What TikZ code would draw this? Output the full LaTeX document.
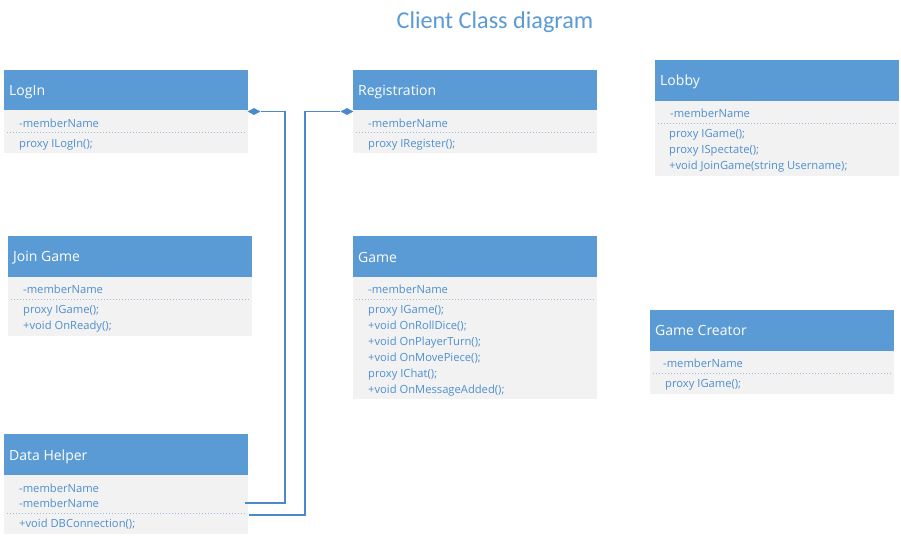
\documentclass[tikz,border=0pt]{standalone}
\usepackage{fontspec}
\usetikzlibrary{shapes.geometric}
\setmainfont{Carlito}
\newfontfamily\bodyfont{Open Sans}
\definecolor{hdr}{HTML}{5B9BD5}
\definecolor{bodyfill}{HTML}{F2F2F2}
\definecolor{txt}{HTML}{4F8FD0}
\definecolor{dotc}{HTML}{9DBBDD}
\definecolor{linec}{HTML}{4A8ACB}
\begin{document}
\begin{tikzpicture}[x=1pt,y=-1pt,
  hdrbox/.style={fill=hdr, draw=none},
  bodybox/.style={fill=bodyfill, draw=none},
  hdrtext/.style={anchor=base west, yshift=-5pt, inner sep=0pt, text=white, font=\bodyfont\fontsize{14}{16}\selectfont},
  mtext/.style={anchor=base west, yshift=-4pt, inner sep=0pt, text=txt, font=\bodyfont\fontsize{11.2}{13}\selectfont},
  sep/.style={draw=dotc, dotted, line width=1pt},
  conn/.style={draw=linec, line width=1.2pt},
  dmd/.style={diamond, aspect=2, fill=linec, inner sep=0pt, minimum width=13pt, minimum height=7pt, draw=none}
]
\useasboundingbox (0,0) rectangle (901,538);
\fill[white] (0,0) rectangle (901,538);
\node[text=hdr, font=\fontsize{24.2}{28}\selectfont, inner sep=0pt] (title) at (495,22) {Client Class diagram};

% LogIn
\fill[hdrbox] (4,70) rectangle (248,110);
\fill[bodybox] (4,110) rectangle (248,153);
\node[hdrtext] (loginT) at (9,90) {LogIn};
\node[mtext] (loginA) at (19,123) {-memberName};
\draw[sep] (7,132) -- (245,132);
\node[mtext] (loginM) at (19,143) {proxy ILogIn();};

% Registration
\fill[hdrbox] (353,70) rectangle (597,110);
\fill[bodybox] (353,110) rectangle (597,153);
\node[hdrtext] (regT) at (358,90) {Registration};
\node[mtext] (regA) at (368,123) {-memberName};
\draw[sep] (356,132) -- (594,132);
\node[mtext] (regM) at (368,143) {proxy IRegister();};

% Lobby
\fill[hdrbox] (655,60) rectangle (899,101);
\fill[bodybox] (655,101) rectangle (899,176);
\node[hdrtext] (lobT) at (660,80) {Lobby};
\node[mtext] (lobA) at (670,113) {-memberName};
\draw[sep] (658,123) -- (896,123);
\node[mtext] (lobM1) at (669,133) {proxy IGame();};
\node[mtext] (lobM2) at (669,149) {proxy ISpectate();};
\node[mtext] (lobM3) at (669,165) {+void JoinGame(string Username);};

% Join Game
\fill[hdrbox] (8,236) rectangle (252,277);
\fill[bodybox] (8,277) rectangle (252,336);
\node[hdrtext] (jgT) at (13,256) {Join Game};
\node[mtext] (jgA) at (23,289) {-memberName};
\draw[sep] (11,299) -- (249,299);
\node[mtext] (jgM1) at (23,309) {proxy IGame();};
\node[mtext] (jgM2) at (23,325) {+void OnReady();};

% Game
\fill[hdrbox] (353,236) rectangle (597,277);
\fill[bodybox] (353,277) rectangle (597,399);
\node[hdrtext] (gT) at (358,257) {Game};
\node[mtext] (gA) at (368,289) {-memberName};
\draw[sep] (356,299) -- (594,299);
\node[mtext] (gM1) at (368,309) {proxy IGame();};
\node[mtext] (gM2) at (368,325) {+void OnRollDice();};
\node[mtext] (gM3) at (368,341) {+void OnPlayerTurn();};
\node[mtext] (gM4) at (368,357) {+void OnMovePiece();};
\node[mtext] (gM5) at (368,373) {proxy IChat();};
\node[mtext] (gM6) at (368,389) {+void OnMessageAdded();};

% Game Creator
\fill[hdrbox] (650,310) rectangle (894,351);
\fill[bodybox] (650,351) rectangle (894,394);
\node[hdrtext] (gcT) at (655,330) {Game Creator};
\node[mtext] (gcA) at (663,363) {-memberName};
\draw[sep] (653,373) -- (891,373);
\node[mtext] (gcM) at (665,383) {proxy IGame();};

% Data Helper
\fill[hdrbox] (4,434) rectangle (248,475);
\fill[bodybox] (4,475) rectangle (248,534);
\node[hdrtext] (dhT) at (9,455) {Data Helper};
\node[mtext] (dhA1) at (19,488) {-memberName};
\node[mtext] (dhA2) at (19,503) {-memberName};
\draw[sep] (7,513) -- (245,513);
\node[mtext] (dhM) at (19,523) {+void DBConnection();};
\coordinate (dhR1) at (245,503);
\coordinate (dhR2) at (249,515);

% connectors
\node[dmd] (d1) at (254,111.5) {};
\node[dmd] (d2) at (347,111.5) {};
\draw[conn] (d1.east) -| (285,503) -- (dhR1);
\draw[conn] (d2.west) -| (305,515) -- (dhR2);
\end{tikzpicture}
\end{document}
